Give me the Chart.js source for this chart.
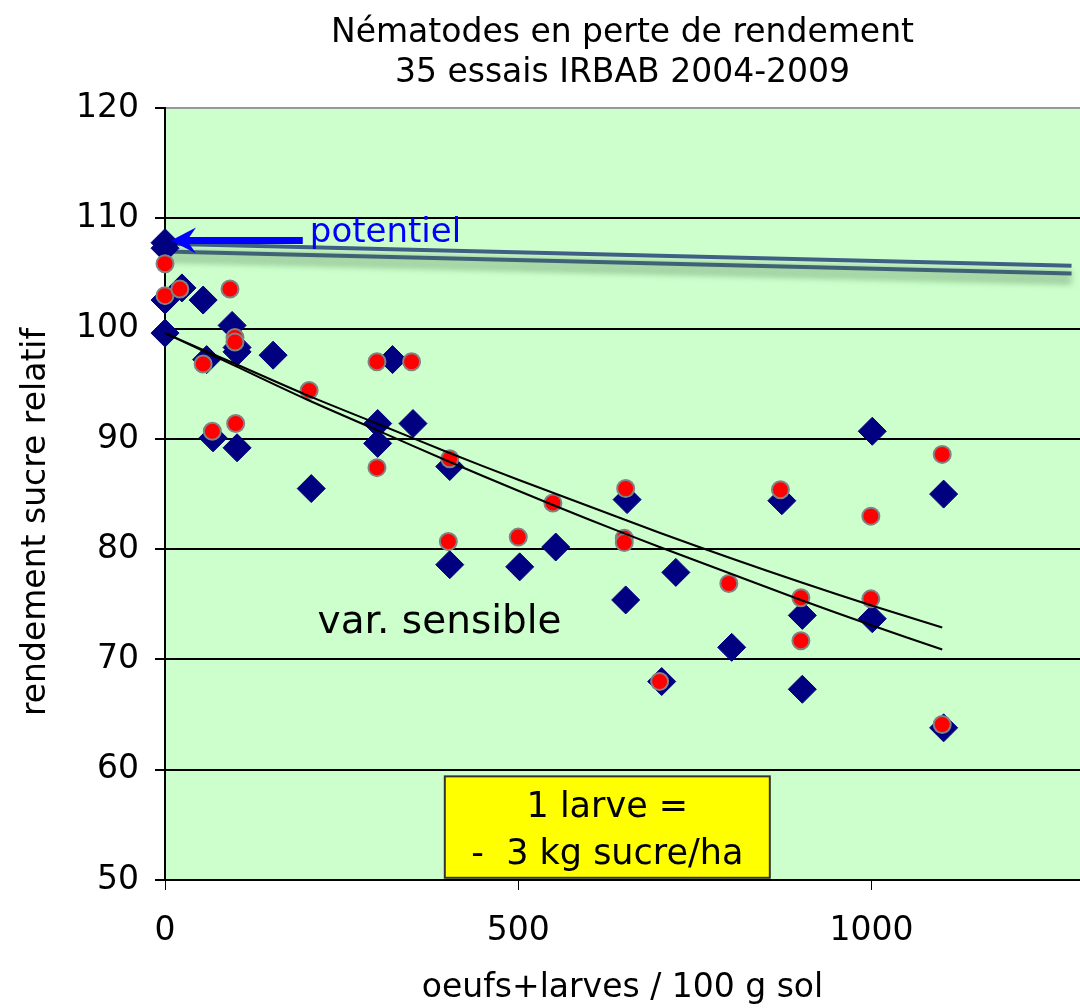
<!DOCTYPE html>
<html lang="fr">
<head>
    <meta charset="UTF-8">
    <title>Nématodes en perte de rendement</title>
    <script src="https://cdn.jsdelivr.net/npm/chart.js"></script>
    <style>
        body { margin: 0; background: #fff; }
        .box { width: 1080px; height: 1008px; }
    </style>
</head>
<body>
<div class="box"><canvas id="graf" width="1080" height="1008"></canvas></div>
<script>
    // valeurs
    const xTicks = [0, 500, 1000];
    const yTicks = [50, 60, 70, 80, 90, 100, 110, 120];

    // losanges bleus
    const xBleu = [0, 0, 0, 0, 24, 54, 95, 102, 102, 153, 59, 68, 102, 207, 301, 301, 322, 351, 403, 403, 502, 553, 652, 654, 723, 802, 703, 1001, 1102, 873, 902, 1001, 902, 1102];
    const yBleu = [107.8, 107.3, 102.6, 99.6, 103.7, 102.6, 100.3, 97.9, 98.3, 97.6, 97.2, 90.1, 89.2, 85.5, 91.4, 89.6, 97.2, 91.4, 78.6, 87.5, 78.4, 80.2, 75.4, 84.5, 77.9, 71.1, 68.0, 90.7, 85.0, 84.4, 74.0, 73.7, 67.3, 63.8];

    // ronds rouges
    const xRouge = [0, 0, 21, 92, 99, 99, 54, 67, 100, 204, 300, 349, 300, 403, 401, 500, 549, 652, 650, 650, 798, 700, 871, 999, 1100, 900, 999, 900, 1100];
    const yRouge = [105.9, 103.0, 103.6, 103.6, 99.2, 98.8, 96.8, 90.7, 91.4, 94.4, 97.0, 97.0, 87.4, 88.2, 80.7, 81.1, 84.2, 85.5, 81.0, 80.6, 76.9, 68.0, 85.4, 83.0, 88.6, 75.6, 75.5, 71.7, 64.1];

    // courbes de tendance
    const xTendance = [0, 100, 200, 300, 400, 500, 600, 700, 800, 900, 1000, 1100];
    const yTendance1 = [99.6, 96.8, 94.0, 91.4, 88.8, 86.3, 83.9, 81.5, 79.2, 77.0, 74.9, 72.9];
    const yTendance2 = [99.6, 96.6, 93.6, 90.8, 88.0, 85.3, 82.7, 80.2, 77.8, 75.4, 73.1, 70.9];

    // lignes du potentiel
    const xPotentiel = [0, 1283];
    const yPotentiel1 = [107.7, 105.7];
    const yPotentiel2 = [107.0, 105.0];

    const pts = (xs, ys) => xs.map((x, i) => ({ x: x, y: ys[i] }));

    const police = "'DejaVu Sans', Verdana, sans-serif";

    // fond vert + ombre des lignes du potentiel + textes
    const decor = {
        id: 'decor',
        beforeDraw(chart) {
            const { ctx, chartArea: a } = chart;
            ctx.save();
            ctx.fillStyle = '#CCFFCC';
            ctx.fillRect(a.left, a.top, a.right - a.left, a.bottom - a.top);
            ctx.restore();
        },
        beforeDatasetDraw(chart, args) {
            if (args.meta.label && args.meta.label.indexOf('potentiel') === 0) {
                const ctx = chart.ctx;
                ctx.save();
                ctx.shadowColor = 'rgba(70,110,70,0.55)';
                ctx.shadowBlur = 6;
                ctx.shadowOffsetY = 8;
            }
        },
        afterDatasetDraw(chart, args) {
            if (args.meta.label && args.meta.label.indexOf('potentiel') === 0) {
                chart.ctx.restore();
            }
        },
        afterDraw(chart) {
            const ctx = chart.ctx;
            const sx = chart.scales.x, sy = chart.scales.y;
            ctx.save();

            // titre de l'axe y
            ctx.fillStyle = '#000';
            ctx.font = '33px ' + police;
            ctx.textAlign = 'center';
            ctx.textBaseline = 'middle';
            ctx.translate(36, 522);
            ctx.rotate(-Math.PI / 2);
            ctx.fillText('rendement sucre relatif', 0, 0);
            ctx.setTransform(1, 0, 0, 1, 0, 0);

            // flèche "potentiel"
            const yF = sy.getPixelForValue(108.0);
            const x0 = sx.getPixelForValue(0) + 6;
            const x1 = sx.getPixelForValue(195);
            ctx.strokeStyle = '#0000FF';
            ctx.fillStyle = '#0000FF';
            ctx.lineWidth = 7;
            ctx.beginPath();
            ctx.moveTo(x1, yF);
            ctx.lineTo(x0 + 14, yF);
            ctx.stroke();
            ctx.beginPath();
            ctx.moveTo(x0, yF);
            ctx.lineTo(x0 + 25, yF - 13);
            ctx.lineTo(x0 + 16, yF);
            ctx.lineTo(x0 + 25, yF + 13);
            ctx.closePath();
            ctx.fill();

            ctx.font = '34px ' + police;
            ctx.textAlign = 'left';
            ctx.fillText('potentiel', sx.getPixelForValue(205), sy.getPixelForValue(108.7));

            // var. sensible
            ctx.fillStyle = '#000';
            ctx.font = '39px ' + police;
            ctx.fillText('var. sensible', sx.getPixelForValue(216), sy.getPixelForValue(73.3));

            // encadré jaune
            const bx0 = sx.getPixelForValue(396), bx1 = sx.getPixelForValue(856);
            const by0 = sy.getPixelForValue(59.4), by1 = sy.getPixelForValue(50.2);
            ctx.fillStyle = '#FFFF00';
            ctx.fillRect(bx0, by0, bx1 - bx0, by1 - by0);
            ctx.strokeStyle = '#333';
            ctx.lineWidth = 2;
            ctx.strokeRect(bx0, by0, bx1 - bx0, by1 - by0);
            ctx.fillStyle = '#000';
            ctx.font = '35px ' + police;
            ctx.textAlign = 'center';
            const cx = (bx0 + bx1) / 2;
            ctx.fillText('1 larve =', cx, by0 + 32);
            ctx.fillText('-  3 kg sucre/ha', cx, by0 + 79);
            ctx.restore();
        }
    };

    const data1 = {
        datasets: [
            {
                label: 'tendance 1',
                data: pts(xTendance, yTendance1),
                showLine: true,
                borderColor: '#000',
                borderWidth: 2,
                pointRadius: 0,
                tension: 0.3,
                clip: false
            },
            {
                label: 'tendance 2',
                data: pts(xTendance, yTendance2),
                showLine: true,
                borderColor: '#000',
                borderWidth: 2,
                pointRadius: 0,
                tension: 0.3,
                clip: false
            },
            {
                label: 'rouge',
                data: pts(xRouge, yRouge),
                pointStyle: 'circle',
                pointRadius: 8.5,
                backgroundColor: '#FF0000',
                borderColor: 'rgb(130,130,130)',
                borderWidth: 2,
                clip: false
            },
            {
                label: 'bleu',
                data: pts(xBleu, yBleu),
                pointStyle: 'rectRot',
                pointRadius: 14,
                backgroundColor: '#000080',
                borderColor: '#000080',
                borderWidth: 1,
                clip: false
            },
            {
                label: 'potentiel 1',
                data: pts(xPotentiel, yPotentiel1),
                showLine: true,
                borderColor: '#3F5F85',
                borderWidth: 4,
                pointRadius: 0
            },
            {
                label: 'potentiel 2',
                data: pts(xPotentiel, yPotentiel2),
                showLine: true,
                borderColor: '#3F5F85',
                borderWidth: 4,
                pointRadius: 0
            }
        ]
    };

    const config1 = {
        type: 'scatter',
        data: data1,
        plugins: [decor],
        options: {
            responsive: false,
            animation: false,
            layout: { padding: 0, autoPadding: false },
            plugins: {
                legend: { display: false },
                tooltip: { enabled: false },
                title: {
                    display: true,
                    fullSize: false,
                    text: ['Nématodes en perte de rendement', '35 essais IRBAB 2004-2009'],
                    color: '#000',
                    font: { family: police, size: 33, weight: 'normal', lineHeight: 1.2 },
                    padding: { top: 14, bottom: 15 }
                }
            },
            scales: {
                x: {
                    type: 'linear',
                    min: 0,
                    max: 1295,
                    afterBuildTicks: s => { s.ticks = xTicks.map(v => ({ value: v })); },
                    afterFit: s => { s.height = 128; s.paddingRight = 0; s.paddingLeft = 0; },
                    grid: { display: true, drawOnChartArea: false, color: '#000', tickLength: 10 },
                    border: { color: '#000', width: 2 },
                    ticks: {
                        color: '#000',
                        font: { family: police, size: 33 },
                        padding: 22,
                        maxRotation: 0,
                        callback: v => String(v)
                    },
                    title: {
                        display: true,
                        text: 'oeufs+larves / 100 g sol',
                        color: '#000',
                        font: { family: police, size: 33 },
                        padding: { top: 20, bottom: 0 }
                    }
                },
                y: {
                    min: 50,
                    max: 120,
                    afterBuildTicks: s => { s.ticks = yTicks.map(v => ({ value: v })); },
                    afterFit: s => { s.width = 165; s.paddingTop = 0; s.paddingBottom = 0; },
                    grid: {
                        color: c => c.tick && c.tick.value === 120 ? '#999' : '#000',
                        lineWidth: 2,
                        tickLength: 10,
                        tickColor: '#000'
                    },
                    border: { color: '#000', width: 2 },
                    ticks: { color: '#000', font: { family: police, size: 33 }, padding: 16 }
                }
            }
        }
    };

    const myChart = new Chart(document.getElementById('graf'), config1);
</script>
</body>
</html>
